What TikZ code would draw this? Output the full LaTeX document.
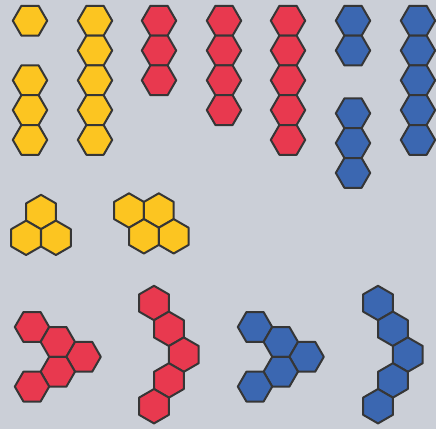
\documentclass[tikz,border=0pt]{standalone}
\usetikzlibrary{shapes.geometric}
\definecolor{bgc}{HTML}{CBCFD7}
\definecolor{hyel}{HTML}{FCC521}
\definecolor{hred}{HTML}{E8394F}
\definecolor{hblu}{HTML}{3B67B1}
\definecolor{edge}{HTML}{363636}
\tikzset{
  hexf/.style={regular polygon, regular polygon sides=6, minimum size=34.4pt,
    inner sep=0pt, outer sep=0pt, draw=edge, line width=2pt, line join=round},
  hexp/.style={hexf, shape border rotate=30},
  yel/.style={fill=hyel}, red/.style={fill=hred}, blu/.style={fill=hblu}
}
\begin{document}
\begin{tikzpicture}[x=1pt,y=-1pt]
\fill[bgc] (0,0) rectangle (436,429);
\useasboundingbox (0,0) rectangle (436,429);
% column stacks (flat-top)
\node[hexf,yel] (ya0) at (30,20.7) {};
\foreach \r/\y in {2/80.3,3/110.1,4/139.9} \node[hexf,yel] (ya\r) at (30,\y) {};
\foreach \r/\y in {0/20.7,1/50.5,2/80.3,3/110.1,4/139.9} \node[hexf,yel] (yb\r) at (95,\y) {};
\foreach \r/\y in {0/20.7,1/50.5,2/80.3} \node[hexf,red] (ra\r) at (159,\y) {};
\foreach \r/\y in {0/20.7,1/50.5,2/80.3,3/110.1} \node[hexf,red] (rb\r) at (224,\y) {};
\foreach \r/\y in {0/20.7,1/50.5,2/80.3,3/110.1,4/139.9} \node[hexf,red] (rc\r) at (288,\y) {};
\foreach \r/\y in {0/20.7,1/50.5} \node[hexf,blu] (ba\r) at (353,\y) {};
\foreach \r/\y in {2/113.3,3/143.1,4/172.9} \node[hexf,blu] (ba\r) at (353,\y) {};
\foreach \r/\y in {0/20.7,1/50.5,2/80.3,3/110.1,4/139.9} \node[hexf,blu] (bb\r) at (418,\y) {};
% yellow clusters (pointy-top)
\node[hexp,yel] (yt1) at (41,212) {};
\node[hexp,yel] (yt2) at (26.1,237.8) {};
\node[hexp,yel] (yt3) at (55.9,237.8) {};
\node[hexp,yel] (yp1) at (129,210.5) {};
\node[hexp,yel] (yp2) at (158.8,210.5) {};
\node[hexp,yel] (yp3) at (143.9,236.3) {};
\node[hexp,yel] (yp4) at (173.7,236.3) {};
% chevrons (flat-top)
\foreach \i/\dx/\y in {1/0/327,2/25.8/341.9,3/51.6/356.8,4/25.8/371.7,5/0/386.6}{
  \node[hexf,red] (rv\i) at (32+\dx,\y) {};
  \node[hexf,blu] (bv\i) at (255+\dx,\y) {};
}
% arcs (pointy-top)
\foreach \i/\dx/\y in {1/0/303,2/14.9/328.8,3/29.8/354.6,4/14.9/380.4,5/0/406.2}{
  \node[hexp,red] (rw\i) at (154+\dx,\y) {};
  \node[hexp,blu] (bw\i) at (378+\dx,\y) {};
}
\end{tikzpicture}
\end{document}
